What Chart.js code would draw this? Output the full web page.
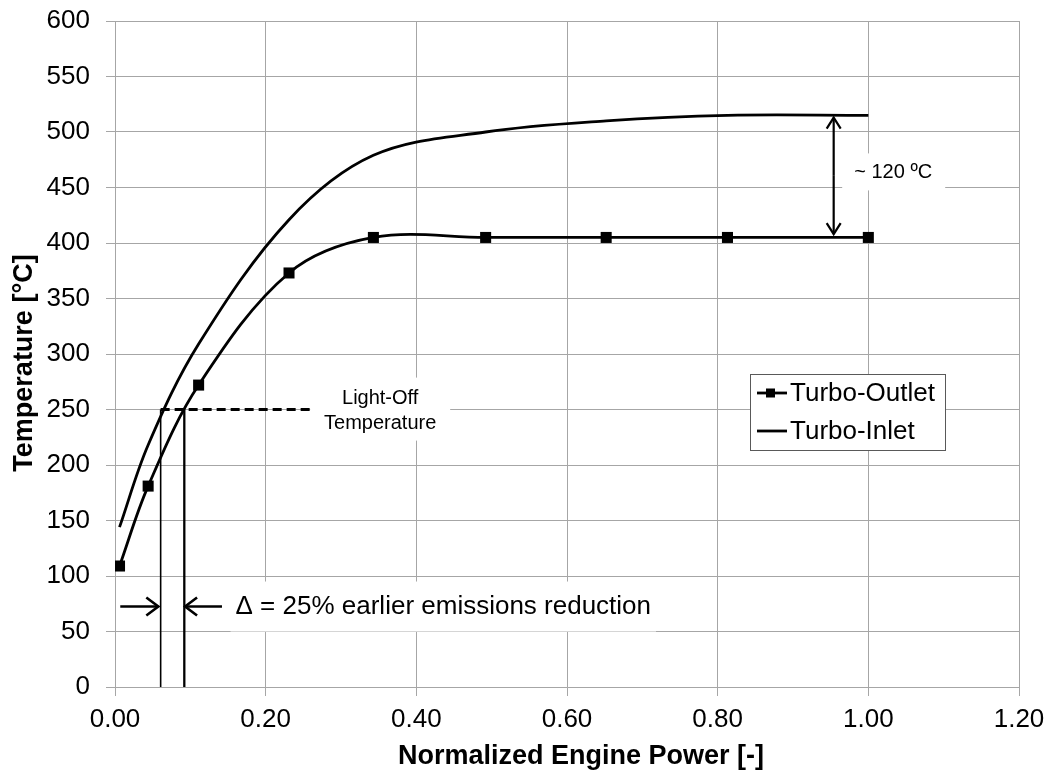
<!DOCTYPE html>
<html>
<head>
<meta charset="utf-8">
<script src="https://cdn.jsdelivr.net/npm/chart.js@4.4.1/dist/chart.umd.min.js"></script>
<style>
  html, body { margin: 0; padding: 0; background: #fff; }
</style>
</head>
<body>
<canvas id="chart" width="1049" height="771"></canvas>
<script>
const powerPoints = [0.006, 0.044, 0.111, 0.231, 0.343, 0.492, 0.652, 0.813, 1.0];
const outletTemps = [109, 181, 272, 373, 405, 405, 405, 405, 405];
const inletTemps = [144, 218, 309, 421, 479, 500, 510, 515, 515];

const xTicks = [0, 0.2, 0.4, 0.6, 0.8, 1.0, 1.2];
const yTicks = [0, 50, 100, 150, 200, 250, 300, 350, 400, 450, 500, 550, 600];

// light-off construction: where each curve crosses 250 °C
const lightOffTemp = 250;
const inletCross = 0.0606;
const outletCross = 0.092;
const lightOffDashEnd = 0.2615;

// arrows (data coordinates)
const deltaY = 72.5;
const deltaLeft = [0.007, 0.0575];
const deltaRight = [0.142, 0.093];
const gapX = 0.954;
const gapTemps = [513, 408];

const FONT = "'Liberation Sans', Arial, Helvetica, sans-serif";
const GRID = '#a6a6a6';

Chart.defaults.font.family = FONT;
Chart.defaults.color = '#000';

const toXY = (xs, ys) => xs.map((x, i) => ({ x, y: ys[i] }));

const arrow = (ctx, x1, y1, x2, y2, len, half) => {
    const a = Math.atan2(y2 - y1, x2 - x1);
    ctx.beginPath();
    ctx.moveTo(x1, y1);
    ctx.lineTo(x2, y2);
    ctx.stroke();
    ctx.beginPath();
    ctx.moveTo(x2 - len * Math.cos(a) + half * Math.sin(a), y2 - len * Math.sin(a) - half * Math.cos(a));
    ctx.lineTo(x2, y2);
    ctx.lineTo(x2 - len * Math.cos(a) - half * Math.sin(a), y2 - len * Math.sin(a) + half * Math.cos(a));
    ctx.stroke();
};

const annotations = {
    id: 'annotations',
    beforeDatasetsDraw(chart) {
        const { ctx, scales: { x, y } } = chart;
        ctx.save();
        ctx.fillStyle = '#fff';
        // label backgrounds hide the gridlines behind them
        ctx.font = `26px ${FONT}`;
        const dText = '\u0394 = 25% earlier emissions reduction';
        const dx = x.getPixelForValue(0.16);
        const dy = y.getPixelForValue(deltaY);
        ctx.fillRect(dx - 5, dy - 25, ctx.measureText(dText).width + 10, 50);

        const lx = x.getPixelForValue(0.352);
        const ly = y.getPixelForValue(249);
        ctx.fillRect(lx - 70, ly - 33, 140, 63);

        const gx = x.getPixelForValue(1.033);
        const gy = y.getPixelForValue(463.6);
        ctx.fillRect(gx - 51, gy - 19, 103, 37);

        ctx.fillStyle = '#000';
        ctx.textBaseline = 'middle';
        ctx.textAlign = 'left';
        ctx.fillText(dText, dx, dy);

        ctx.font = `20px ${FONT}`;
        ctx.textAlign = 'center';
        ctx.fillText('Light-Off', lx, ly - 12.5);
        ctx.fillText('Temperature', lx, ly + 12.5);
        ctx.fillText('~ 120 \u00baC', gx, gy);
        ctx.restore();
    },
    afterDatasetsDraw(chart) {
        const { ctx, scales: { x, y } } = chart;
        ctx.save();
        ctx.strokeStyle = '#000';
        ctx.lineWidth = 2.6;
        ctx.lineCap = 'butt';
        const ay = y.getPixelForValue(deltaY);
        arrow(ctx, x.getPixelForValue(deltaLeft[0]), ay, x.getPixelForValue(deltaLeft[1]), ay, 12, 9);
        arrow(ctx, x.getPixelForValue(deltaRight[0]), ay, x.getPixelForValue(deltaRight[1]), ay, 12, 9);

        const gx = x.getPixelForValue(gapX);
        const gTop = y.getPixelForValue(gapTemps[0]);
        const gBot = y.getPixelForValue(gapTemps[1]);
        ctx.lineWidth = 2.2;
        arrow(ctx, gx, (gTop + gBot) / 2, gx, gTop, 11, 7);
        arrow(ctx, gx, (gTop + gBot) / 2, gx, gBot, 11, 7);

        // legend
        const lg = { left: 750, top: 374, width: 195, height: 76 };
        ctx.fillStyle = '#fff';
        ctx.fillRect(lg.left, lg.top, lg.width, lg.height);
        ctx.strokeStyle = '#595959';
        ctx.lineWidth = 1;
        ctx.strokeRect(lg.left + 0.5, lg.top + 0.5, lg.width, lg.height);

        ctx.strokeStyle = '#000';
        ctx.fillStyle = '#000';
        ctx.lineWidth = 2.8;
        const rows = [
            { label: chart.data.datasets[0].label, y: 393, marker: true },
            { label: chart.data.datasets[1].label, y: 431, marker: false },
        ];
        ctx.font = `26px ${FONT}`;
        ctx.textBaseline = 'middle';
        ctx.textAlign = 'left';
        rows.forEach((r) => {
            ctx.beginPath();
            ctx.moveTo(757, r.y);
            ctx.lineTo(787, r.y);
            ctx.stroke();
            if (r.marker) {
                ctx.fillRect(766, r.y - 4.5, 9, 9);
            }
            ctx.fillText(r.label, 790, r.y + 1);
        });
        ctx.restore();
    },
    afterDraw(chart) {
        const { ctx } = chart;
        ctx.save();
        ctx.fillStyle = '#000';
        ctx.font = `bold 27px ${FONT}`;
        ctx.textAlign = 'center';
        ctx.textBaseline = 'middle';
        ctx.fillText('Normalized Engine Power [-]', 581, 757);
        ctx.translate(25, 363);
        ctx.rotate(-Math.PI / 2);
        ctx.fillText('Temperature [\u00b0C]', 0, 0);
        ctx.restore();
    },
};

new Chart(document.getElementById('chart'), {
    type: 'line',
    data: {
        datasets: [
            {
                label: 'Turbo-Outlet',
                data: toXY(powerPoints, outletTemps),
                borderColor: '#000',
                backgroundColor: '#000',
                borderWidth: 2.8,
                pointStyle: 'rect',
                pointRadius: 7.8,
                pointBorderWidth: 0,
                pointBackgroundColor: '#000',
                tension: 0.35,
            },
            {
                label: 'Turbo-Inlet',
                data: toXY(powerPoints, inletTemps),
                borderColor: '#000',
                borderWidth: 2.8,
                pointRadius: 0,
                tension: 0.35,
            },
            {
                label: 'Light-Off',
                data: toXY([inletCross, lightOffDashEnd], [lightOffTemp, lightOffTemp]),
                borderColor: '#000',
                borderWidth: 3,
                borderDash: [9, 5],
                pointRadius: 0,
            },
            {
                label: 'Inlet crossing',
                data: toXY([inletCross, inletCross], [0, lightOffTemp]),
                borderColor: '#000',
                borderWidth: 1.6,
                pointRadius: 0,
            },
            {
                label: 'Outlet crossing',
                data: toXY([outletCross, outletCross], [0, lightOffTemp]),
                borderColor: '#000',
                borderWidth: 2.3,
                pointRadius: 0,
            },
        ],
    },
    options: {
        responsive: false,
        animation: false,
        layout: {
            padding: { top: 21, right: 30, left: 0, bottom: 0 },
        },
        plugins: {
            legend: { display: false },
            tooltip: { enabled: false },
        },
        scales: {
            x: {
                type: 'linear',
                min: 0,
                max: 1.2,
                afterBuildTicks: (s) => { s.ticks = xTicks.map((value) => ({ value })); },
                afterFit: (s) => {
                    s.height = 84;
                    s.paddingLeft = 0;
                    s.paddingRight = 0;
                },
                ticks: {
                    font: { size: 26 },
                    color: '#000',
                    padding: 8,
                    maxRotation: 0,
                    callback: (v) => Number(v).toFixed(2),
                },
                grid: { color: GRID, lineWidth: 1, tickLength: 9 },
                border: { color: GRID },
            },
            y: {
                min: 0,
                max: 600,
                afterBuildTicks: (s) => { s.ticks = yTicks.map((value) => ({ value })); },
                afterFit: (s) => {
                    s.width = 115;
                    s.paddingTop = 0;
                    s.paddingBottom = 0;
                },
                ticks: {
                    font: { size: 26 },
                    color: '#000',
                    padding: 16,
                },
                grid: { color: GRID, lineWidth: 1, tickLength: 9 },
                border: { color: GRID },
            },
        },
    },
    plugins: [annotations],
});
</script>
</body>
</html>
